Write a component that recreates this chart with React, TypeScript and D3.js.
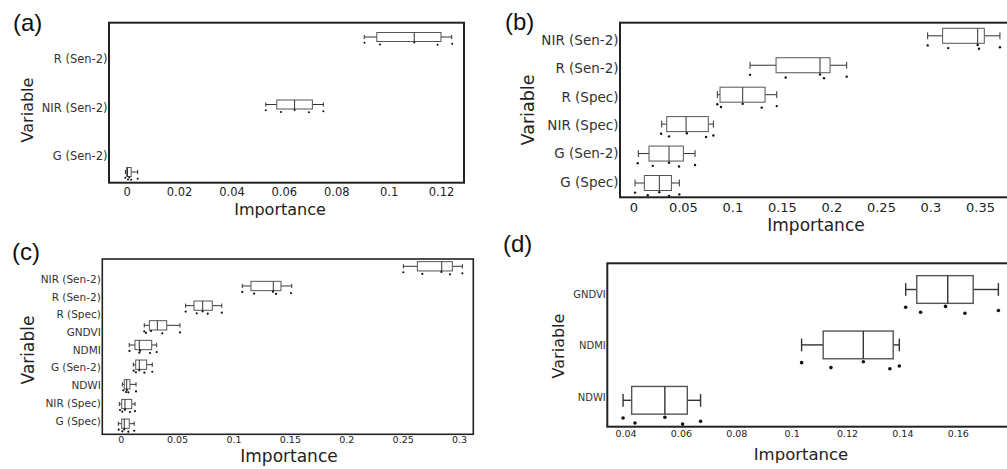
import React, { useEffect, useRef } from "react";
import * as d3 from "d3";

// ---- data: [lower whisker, q1, median, q3, upper whisker] ----
const catsA = ["R (Sen-2)", "NIR (Sen-2)", "G (Sen-2)"];
const statsA = [
  [0.0907, 0.0955, 0.1098, 0.12, 0.1241],
  [0.0531, 0.0573, 0.0641, 0.0709, 0.0751],
  [-0.0005, 0.0, 0.0003, 0.0017, 0.0042],
];
const pointsA = [
  [0.0908, 0.0967, 0.1098, 0.1187, 0.1243],
  [0.0531, 0.0589, 0.0641, 0.0696, 0.0751],
  [-0.0005, 0.0005, 0.001, 0.0017, 0.0042],
];
const ticksA = [0, 0.02, 0.04, 0.06, 0.08, 0.1, 0.12];

const catsB = ["NIR (Sen-2)", "R (Sen-2)", "R (Spec)", "NIR (Spec)", "G (Sen-2)", "G (Spec)"];
const statsB = [
  [0.2972, 0.3123, 0.3477, 0.3544, 0.3702],
  [0.1178, 0.1441, 0.1885, 0.1986, 0.2154],
  [0.0848, 0.0875, 0.1104, 0.133, 0.1448],
  [0.0286, 0.0337, 0.0532, 0.0757, 0.0808],
  [0.005, 0.0158, 0.036, 0.0505, 0.0623],
  [0.0017, 0.0111, 0.0262, 0.0384, 0.0464],
];
const pointsB = [
  [0.2972, 0.318, 0.3477, 0.349, 0.3702],
  [0.1178, 0.1538, 0.1885, 0.1925, 0.2154],
  [0.0848, 0.0885, 0.1104, 0.1296, 0.1448],
  [0.028, 0.036, 0.054, 0.0734, 0.0808],
  [0.0044, 0.0196, 0.036, 0.0461, 0.0623],
  [0.0017, 0.0145, 0.0262, 0.036, 0.0464],
];
const ticksB = [0, 0.05, 0.1, 0.15, 0.2, 0.25, 0.3, 0.35];

const catsC = ["NIR (Sen-2)", "R (Sen-2)", "R (Spec)", "GNDVI", "NDMI", "G (Sen-2)", "NDWI", "NIR (Spec)", "G (Spec)"];
const statsC = [
  [0.2506, 0.263, 0.2846, 0.294, 0.3029],
  [0.1078, 0.1155, 0.1353, 0.1421, 0.1516],
  [0.0576, 0.065, 0.0727, 0.0812, 0.0896],
  [0.0209, 0.0254, 0.0325, 0.0408, 0.0526],
  [0.0076, 0.0127, 0.0165, 0.0275, 0.0319],
  [0.0112, 0.0133, 0.0165, 0.023, 0.028],
  [0.0015, 0.0032, 0.0053, 0.0082, 0.0136],
  [-0.0012, 0.0009, 0.0038, 0.0098, 0.0127],
  [-0.0021, 0.0009, 0.0032, 0.0076, 0.012],
];
const pointsC = [
  [0.2506, 0.2674, 0.2843, 0.292, 0.3029],
  [0.1078, 0.1182, 0.135, 0.1377, 0.151],
  [0.0576, 0.0674, 0.0726, 0.0771, 0.0896],
  [0.0209, 0.0224, 0.0269, 0.0369, 0.0526],
  [0.0078, 0.0165, 0.0172, 0.026, 0.0319],
  [0.0115, 0.0135, 0.0165, 0.021, 0.028],
  [0.0024, 0.0047, 0.0055, 0.0068, 0.0136],
  [-0.0006, 0.0015, 0.0038, 0.0082, 0.0127],
  [-0.0018, 0.0015, 0.0032, 0.0068, 0.012],
];
const ticksC = [0, 0.05, 0.1, 0.15, 0.2, 0.25, 0.3];

const catsD = ["GNDVI", "NDMI", "NDWI"];
const statsD = [
  [0.1412, 0.1452, 0.1564, 0.1656, 0.1747],
  [0.1036, 0.1114, 0.1259, 0.1367, 0.1389],
  [0.0391, 0.0422, 0.0542, 0.0623, 0.0671],
];
const pointsD = [
  [0.1412, 0.1466, 0.1556, 0.1626, 0.1747],
  [0.1036, 0.1142, 0.1259, 0.1355, 0.1389],
  [0.0391, 0.0434, 0.0542, 0.0606, 0.0671],
];
const ticksD = [0.04, 0.06, 0.08, 0.1, 0.12, 0.14, 0.16];

// ---- layout of each panel ----
const panels = [
  {
    tag: "(a)", tagPos: [13, 31], cats: catsA, stats: statsA, points: pointsA, ticks: ticksA,
    frame: { x0: 109, x1: 464, y0: 22.7, y1: 182.7 }, domain: [-0.00676, 0.1288],
    boxRange: [37, 172], labelRange: [59.3, 155.7], boxH: 9, dotR: 1,
    labelSize: 11.5, tickSize: 11.5, tickBase: 196,
    title: [280, 215, 16], vlab: [33, 110, 16], frameW: 2,
  },
  {
    tag: "(b)", tagPos: [505, 30], cats: catsB, stats: statsB, points: pointsB, ticks: ticksB,
    frame: { x0: 620, x1: 1015, y0: 22.7, y1: 197.3 }, domain: [-0.0135, 0.3854],
    boxRange: [35.8, 183], labelRange: [40, 181.7], boxH: 15, dotR: 1.2,
    labelSize: 13.5, tickSize: 13, tickBase: 211.5,
    title: [816, 231, 17], vlab: [534, 110, 17.5], frameW: 2,
  },
  {
    tag: "(c)", tagPos: [12, 260], cats: catsC, stats: statsC, points: pointsC, ticks: ticksC,
    frame: { x0: 102.3, x1: 473.3, y0: 259, y1: 434.3 }, domain: [-0.0163, 0.3126],
    boxRange: [266.3, 423.7], labelRange: [279, 420.7], boxH: 9.3, dotR: 1.1,
    labelSize: 10.5, tickSize: 9.5, tickBase: 443,
    title: [289, 462, 17], vlab: [34, 350, 17], frameW: 1.6,
  },
  {
    tag: "(d)", tagPos: [503, 252], cats: catsD, stats: statsD, points: pointsD, ticks: ticksD,
    frame: { x0: 607.3, x1: 1015, y0: 263.3, y1: 426.7 }, domain: [0.0334, 0.1807],
    boxRange: [289.5, 400.3], labelRange: [294, 397.3], boxH: 27.7, dotR: 1.8,
    labelSize: 10, tickSize: 9.5, tickBase: 437,
    title: [801, 460, 16.5], vlab: [564, 346, 16], frameW: 2,
  },
];

// vertical spread of the raw points below each box, as a share of box height
const dotFrac = [0.64, 0.82, 0.61, 0.86, 0.76];

const FONT = "'DejaVu Sans', Verdana, sans-serif";

function drawPanel(svg: any, p: any) {
  const g = svg.append("g");
  const x = d3.scaleLinear().domain(p.domain).range([p.frame.x0, p.frame.x1]);
  const yBox = d3.scalePoint().domain(p.cats).range(p.boxRange);
  const yLab = d3.scalePoint().domain(p.cats).range(p.labelRange);

  // panel tag
  g.append("text")
    .attr("x", p.tagPos[0]).attr("y", p.tagPos[1])
    .attr("font-family", "'Liberation Sans', Arial, sans-serif")
    .attr("font-size", 24).attr("fill", "#111")
    .text(p.tag);

  // boxes
  p.cats.forEach((c: string, i: number) => {
    const s = p.stats[i];
    const cy = yBox(c) as number;
    const h = p.boxH;
    const cap = h * 0.46;
    const sw = h > 20 ? 1.4 : 1;

    g.append("line").attr("x1", x(s[0])).attr("x2", x(s[1])).attr("y1", cy).attr("y2", cy)
      .attr("stroke", "#333").attr("stroke-width", sw);
    g.append("line").attr("x1", x(s[3])).attr("x2", x(s[4])).attr("y1", cy).attr("y2", cy)
      .attr("stroke", "#333").attr("stroke-width", sw);
    [s[0], s[4]].forEach(v => {
      g.append("line").attr("x1", x(v)).attr("x2", x(v)).attr("y1", cy - cap / 2).attr("y2", cy + cap / 2)
        .attr("stroke", "#333").attr("stroke-width", sw);
    });
    g.append("rect")
      .attr("x", x(s[1])).attr("y", cy - h / 2)
      .attr("width", Math.max(x(s[3]) - x(s[1]), 1)).attr("height", h)
      .attr("fill", "white").attr("stroke", "#555").attr("stroke-width", sw);
    g.append("line").attr("x1", x(s[2])).attr("x2", x(s[2])).attr("y1", cy - h / 2).attr("y2", cy + h / 2)
      .attr("stroke", "#333").attr("stroke-width", sw);

    p.points[i].forEach((v: number, j: number) => {
      g.append("circle").attr("cx", x(v)).attr("cy", cy + dotFrac[j % dotFrac.length] * h)
        .attr("r", p.dotR).attr("fill", "#111");
    });
  });

  // frame
  g.append("rect")
    .attr("x", p.frame.x0).attr("y", p.frame.y0)
    .attr("width", p.frame.x1 - p.frame.x0).attr("height", p.frame.y1 - p.frame.y0)
    .attr("fill", "none").attr("stroke", "#222").attr("stroke-width", p.frameW);

  // x axis labels
  const ax = g.append("g")
    .attr("transform", `translate(0,${p.tickBase - 0.71 * p.tickSize})`)
    .call(d3.axisBottom(x).tickValues(p.ticks).tickSize(0).tickPadding(0).tickFormat(d3.format("~g") as any));
  ax.select(".domain").remove();
  ax.selectAll("text").attr("font-family", FONT).attr("font-size", p.tickSize).attr("fill", "#222");

  // category labels
  const ay = g.append("g")
    .attr("transform", `translate(${p.frame.x0},0)`)
    .call(d3.axisLeft(yLab).tickSize(0).tickPadding(1.5));
  ay.select(".domain").remove();
  ay.selectAll("text").attr("font-family", FONT).attr("font-size", p.labelSize).attr("fill", "#333");

  // axis titles
  g.append("text")
    .attr("x", p.title[0]).attr("y", p.title[1])
    .attr("text-anchor", "middle").attr("font-family", FONT).attr("font-size", p.title[2]).attr("fill", "#222")
    .text("Importance");
  g.append("text")
    .attr("transform", `translate(${p.vlab[0]},${p.vlab[1]}) rotate(-90)`)
    .attr("text-anchor", "middle").attr("font-family", FONT).attr("font-size", p.vlab[2]).attr("fill", "#222")
    .text("Variable");
}

export default function App() {
  const svgRef = useRef<SVGSVGElement>(null);

  useEffect(() => {
    const svg = d3.select(svgRef.current);
    svg.selectAll("*").remove();
    panels.forEach(p => drawPanel(svg, p));
  }, []);

  return (
    <svg
      ref={svgRef}
      width={1007}
      height={469}
      style={{ position: "absolute", left: 0, top: 0, background: "#fff" }}
    />
  );
}
